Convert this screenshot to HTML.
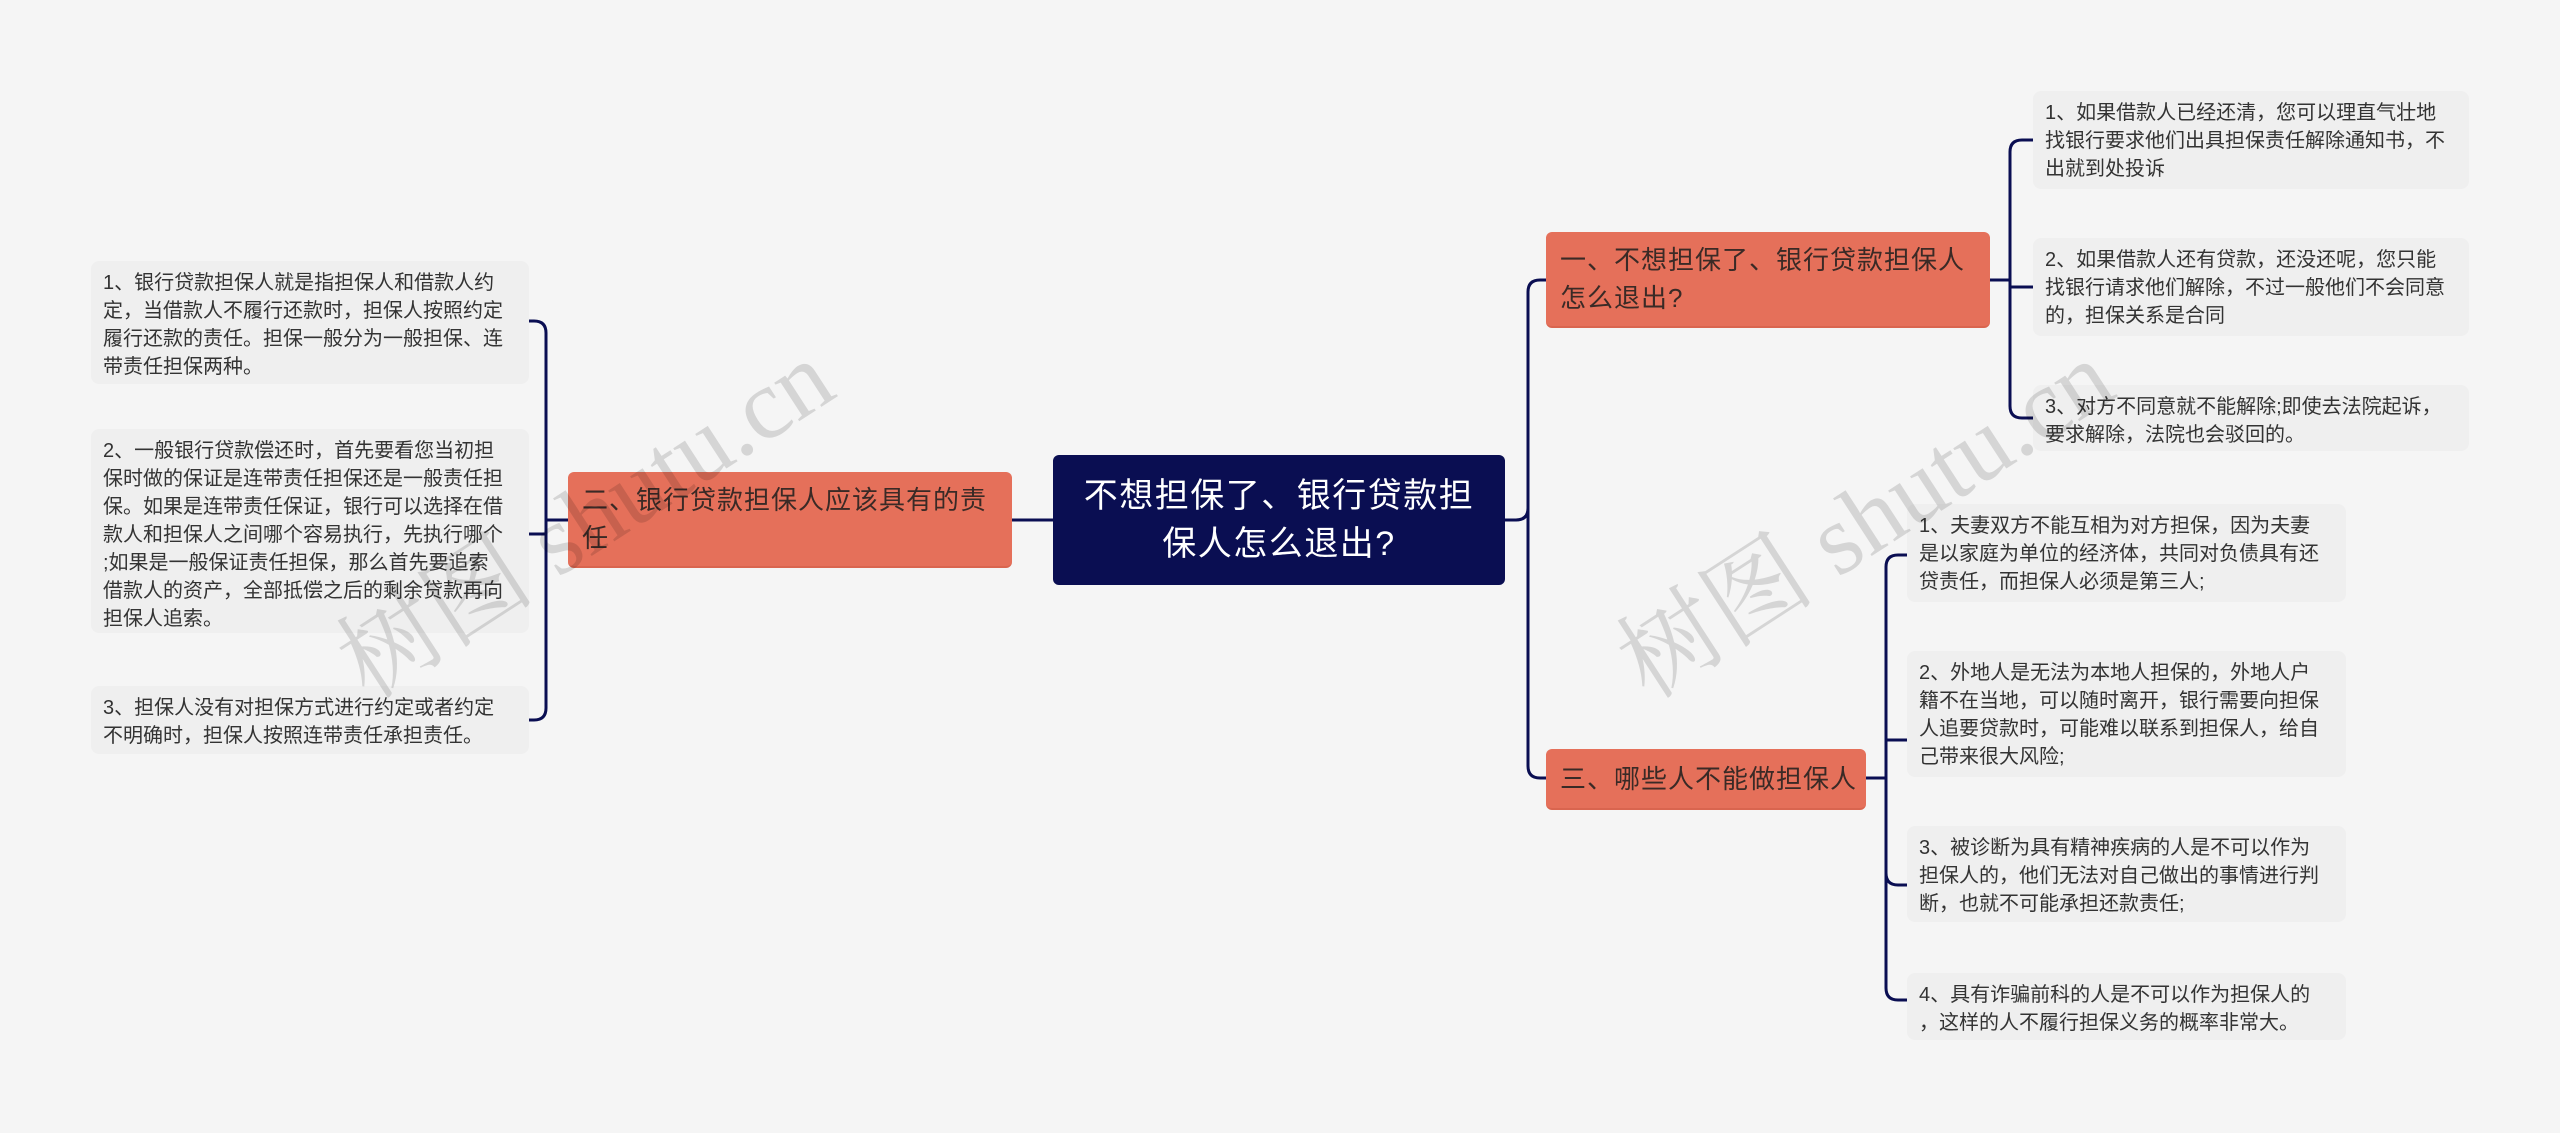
<!DOCTYPE html>
<html><head><meta charset="utf-8">
<style>
html,body{margin:0;padding:0;}
body{width:2560px;height:1133px;background:#f5f5f5;position:relative;overflow:hidden;font-family:"Liberation Sans","Noto Sans CJK SC",sans-serif;}
.n{position:absolute;box-sizing:border-box;white-space:nowrap;}
.leaf{background:#efefef;border-radius:8px;color:#333;font-size:20px;line-height:28px;padding:8px 10px 8px 12px;}
.br{background:#e5705a;border-radius:6px;color:#3a2a26;font-size:26px;letter-spacing:1px;line-height:38px;padding:0 14px;display:flex;align-items:center;border-bottom:2px solid #d9654f;}
.root{background:#0a0e52;border-radius:6px;color:#fff;font-size:34px;letter-spacing:1.5px;line-height:48px;text-align:center;display:flex;align-items:center;justify-content:center;padding:0 10px;}
.wm{position:absolute;font-family:"Liberation Serif","Noto Serif CJK SC",serif;font-size:100px;color:rgba(0,0,0,0.13);transform:rotate(-33deg);white-space:nowrap;}
svg{position:absolute;left:0;top:0;}
</style></head><body>
<svg width="2560" height="1133" fill="none" stroke="#0a0e52" stroke-width="3">
<path d="M1505 520 H1516 Q1528 520 1528 508 V292 Q1528 280 1540 280 H1546"/>
<path d="M1528 508 V766 Q1528 778 1540 778 H1546"/>
<path d="M1990 280 H2010 M2010 280 V152 Q2010 140 2022 140 H2033"/>
<path d="M2010 280 V287 H2033"/>
<path d="M2010 280 V406 Q2010 418 2022 418 H2033"/>
<path d="M1866 778 H1886 M1886 778 V567 Q1886 555 1898 555 H1907"/>
<path d="M1886 778 V740 H1907"/>
<path d="M1886 778 V873 Q1886 885 1898 885 H1907"/>
<path d="M1886 778 V988 Q1886 1000 1898 1000 H1907"/>
<path d="M1053 520 H1012"/>
<path d="M568 520 H546 M546 520 V333 Q546 321 534 321 H529"/>
<path d="M546 520 V534 H529"/>
<path d="M546 520 V708 Q546 720 534 720 H529"/>
</svg>
<div class="n root" style="left:1053px;top:455px;width:452px;height:130px;">不想担保了、银行贷款担<br>保人怎么退出?</div>
<div class="n br" style="left:1546px;top:232px;width:444px;height:96px;">一、不想担保了、银行贷款担保人<br>怎么退出?</div>
<div class="n br" style="left:1546px;top:749px;width:320px;height:61px;">三、哪些人不能做担保人</div>
<div class="n br" style="left:568px;top:472px;width:444px;height:96px;">二、银行贷款担保人应该具有的责<br>任</div>
<div class="n leaf" style="left:2033px;top:91px;width:436px;height:98px;">1、如果借款人已经还清，您可以理直气壮地<br>找银行要求他们出具担保责任解除通知书，不<br>出就到处投诉</div>
<div class="n leaf" style="left:2033px;top:238px;width:436px;height:98px;">2、如果借款人还有贷款，还没还呢，您只能<br>找银行请求他们解除，不过一般他们不会同意<br>的，担保关系是合同</div>
<div class="n leaf" style="left:2033px;top:385px;width:436px;height:66px;">3、对方不同意就不能解除;即使去法院起诉，<br>要求解除，法院也会驳回的。</div>
<div class="n leaf" style="left:1907px;top:504px;width:439px;height:98px;">1、夫妻双方不能互相为对方担保，因为夫妻<br>是以家庭为单位的经济体，共同对负债具有还<br>贷责任，而担保人必须是第三人;</div>
<div class="n leaf" style="left:1907px;top:651px;width:439px;height:126px;">2、外地人是无法为本地人担保的，外地人户<br>籍不在当地，可以随时离开，银行需要向担保<br>人追要贷款时，可能难以联系到担保人，给自<br>己带来很大风险;</div>
<div class="n leaf" style="left:1907px;top:826px;width:439px;height:96px;">3、被诊断为具有精神疾病的人是不可以作为<br>担保人的，他们无法对自己做出的事情进行判<br>断，也就不可能承担还款责任;</div>
<div class="n leaf" style="left:1907px;top:973px;width:439px;height:67px;">4、具有诈骗前科的人是不可以作为担保人的<br>，这样的人不履行担保义务的概率非常大。</div>
<div class="n leaf" style="left:91px;top:261px;width:438px;height:123px;">1、银行贷款担保人就是指担保人和借款人约<br>定，当借款人不履行还款时，担保人按照约定<br>履行还款的责任。担保一般分为一般担保、连<br>带责任担保两种。</div>
<div class="n leaf" style="left:91px;top:429px;width:438px;height:204px;">2、一般银行贷款偿还时，首先要看您当初担<br>保时做的保证是连带责任担保还是一般责任担<br>保。如果是连带责任保证，银行可以选择在借<br>款人和担保人之间哪个容易执行，先执行哪个<br>;如果是一般保证责任担保，那么首先要追索<br>借款人的资产，全部抵偿之后的剩余贷款再向<br>担保人追索。</div>
<div class="n leaf" style="left:91px;top:686px;width:438px;height:68px;">3、担保人没有对担保方式进行约定或者约定<br>不明确时，担保人按照连带责任承担责任。</div>
<div class="wm" style="left:300px;top:440px;">树图 shutu.cn</div>
<div class="wm" style="left:1580px;top:440px;">树图 shutu.cn</div>
</body></html>
